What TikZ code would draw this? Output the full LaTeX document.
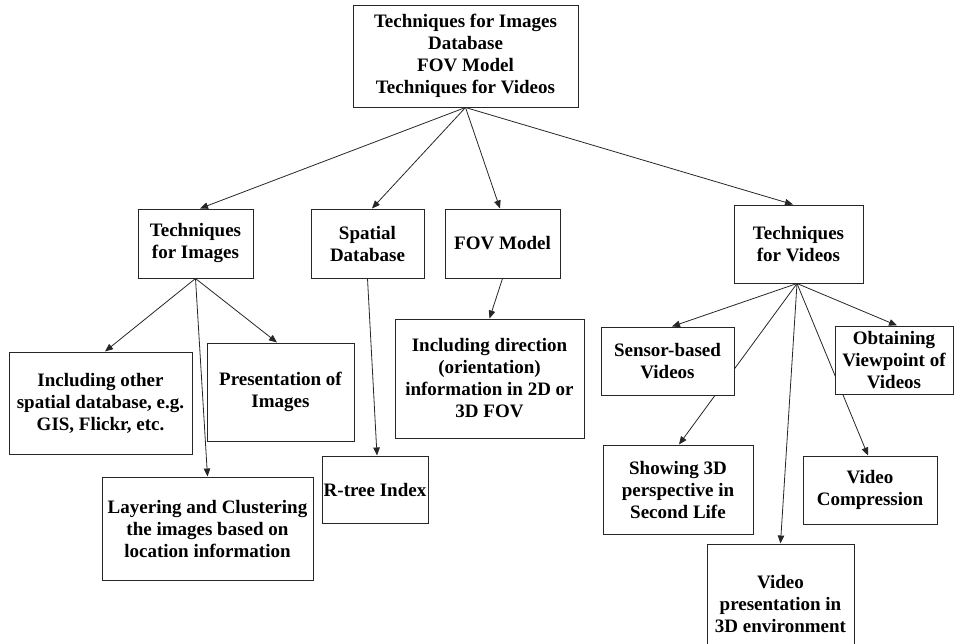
\documentclass[tikz,border=0pt]{standalone}
\usepackage{fontspec}
\setmainfont{Liberation Serif}
\usetikzlibrary{arrows.meta,backgrounds}
\begin{document}
\begin{tikzpicture}[x=1pt,y=-1pt,
  box/.style={draw=black!85,line width=1pt,fill=white,align=center,inner sep=1pt,
    font=\fontsize{19}{22}\selectfont\bfseries},
  link/.style={draw=black!85,line width=0.8pt,-{Triangle[length=8pt,width=6.5pt]}}]
\useasboundingbox (0,0) rectangle (959,643);
% top level
\node[box,minimum width=225,minimum height=102] (root) at (465.5,56)
  {Techniques for Images\\Database\\FOV Model\\Techniques for Videos};
% second level
\node[box,minimum width=115,minimum height=69] (TI) at (195.5,243.5) {Techniques\\for Images};
\node[box,minimum width=113,minimum height=69] (SD) at (367.5,243.5) {Spatial\\Database};
\node[box,minimum width=115,minimum height=69] (FOV) at (502.5,243.5) {FOV Model};
\node[box,minimum width=129,minimum height=78] (TV) at (798.5,244) {Techniques\\for Videos};
% images branch
\node[box,minimum width=183,minimum height=102] (IO) at (100.5,403)
  {Including other\\spatial database, e.g.\\GIS, Flickr, etc.};
\node[box,minimum width=147,minimum height=98] (PI) at (280.5,392) {Presentation of\\Images};
\node[box,minimum width=211,minimum height=103] (LC) at (207.5,528.5)
  {Layering and Clustering\\the images based on\\location information};
% spatial database branch
\node[box,minimum width=106,minimum height=67] (RT) at (375,489.5) {R-tree Index};
% FOV branch
\node[box,minimum width=189,minimum height=119] (ID) at (489.5,378.5)
  {Including direction\\(orientation)\\information in 2D or\\3D FOV};
% videos branch
\node[box,minimum width=133,minimum height=68] (SB) at (667.5,361) {Sensor-based\\Videos};
\node[box,minimum width=118,minimum height=68] (OV) at (894,360) {Obtaining\\Viewpoint of\\Videos};
\node[box,minimum width=150,minimum height=89] (SH) at (678,489.5)
  {Showing 3D\\perspective in\\Second Life};
\node[box,minimum width=134,minimum height=68] (VC) at (870,490) {Video\\Compression};
\node[box,minimum width=147,minimum height=119] (VP) at (780.5,603.5)
  {Video\\presentation in\\3D environment};
% connectors, kept behind the boxes
\begin{scope}[on background layer]
\draw[link] (root.south) -- ([xshift=4.5]TI.north);
\draw[link] (root.south) -- ([xshift=4.5]SD.north);
\draw[link] (root.south) -- ([xshift=-2.5]FOV.north);
\draw[link] (root.south) -- ([xshift=-5.5]TV.north);
\draw[link] (TI.south) -- ([xshift=4.5]IO.north);
\draw[link] (TI.south) -- ([xshift=-3.5]PI.north);
\draw[link] (TI.south) -- (LC.north);
\draw[link] (SD.south) -- ([xshift=2]RT.north);
\draw[link] (FOV.south) -- (ID.north);
\draw[link] ([xshift=-1.5]TV.south) -- ([xshift=4.5]SB.north);
\draw[link] ([xshift=-1.5]TV.south) -- ([xshift=3]OV.north);
\draw[link] ([xshift=-1.5]TV.south) -- ([xshift=1]SH.north);
\draw[link] ([xshift=-1.5]TV.south) -- ([xshift=-2]VC.north);
\draw[link] ([xshift=-1.5]TV.south) -- (VP.north);
\end{scope}
\end{tikzpicture}
\end{document}
